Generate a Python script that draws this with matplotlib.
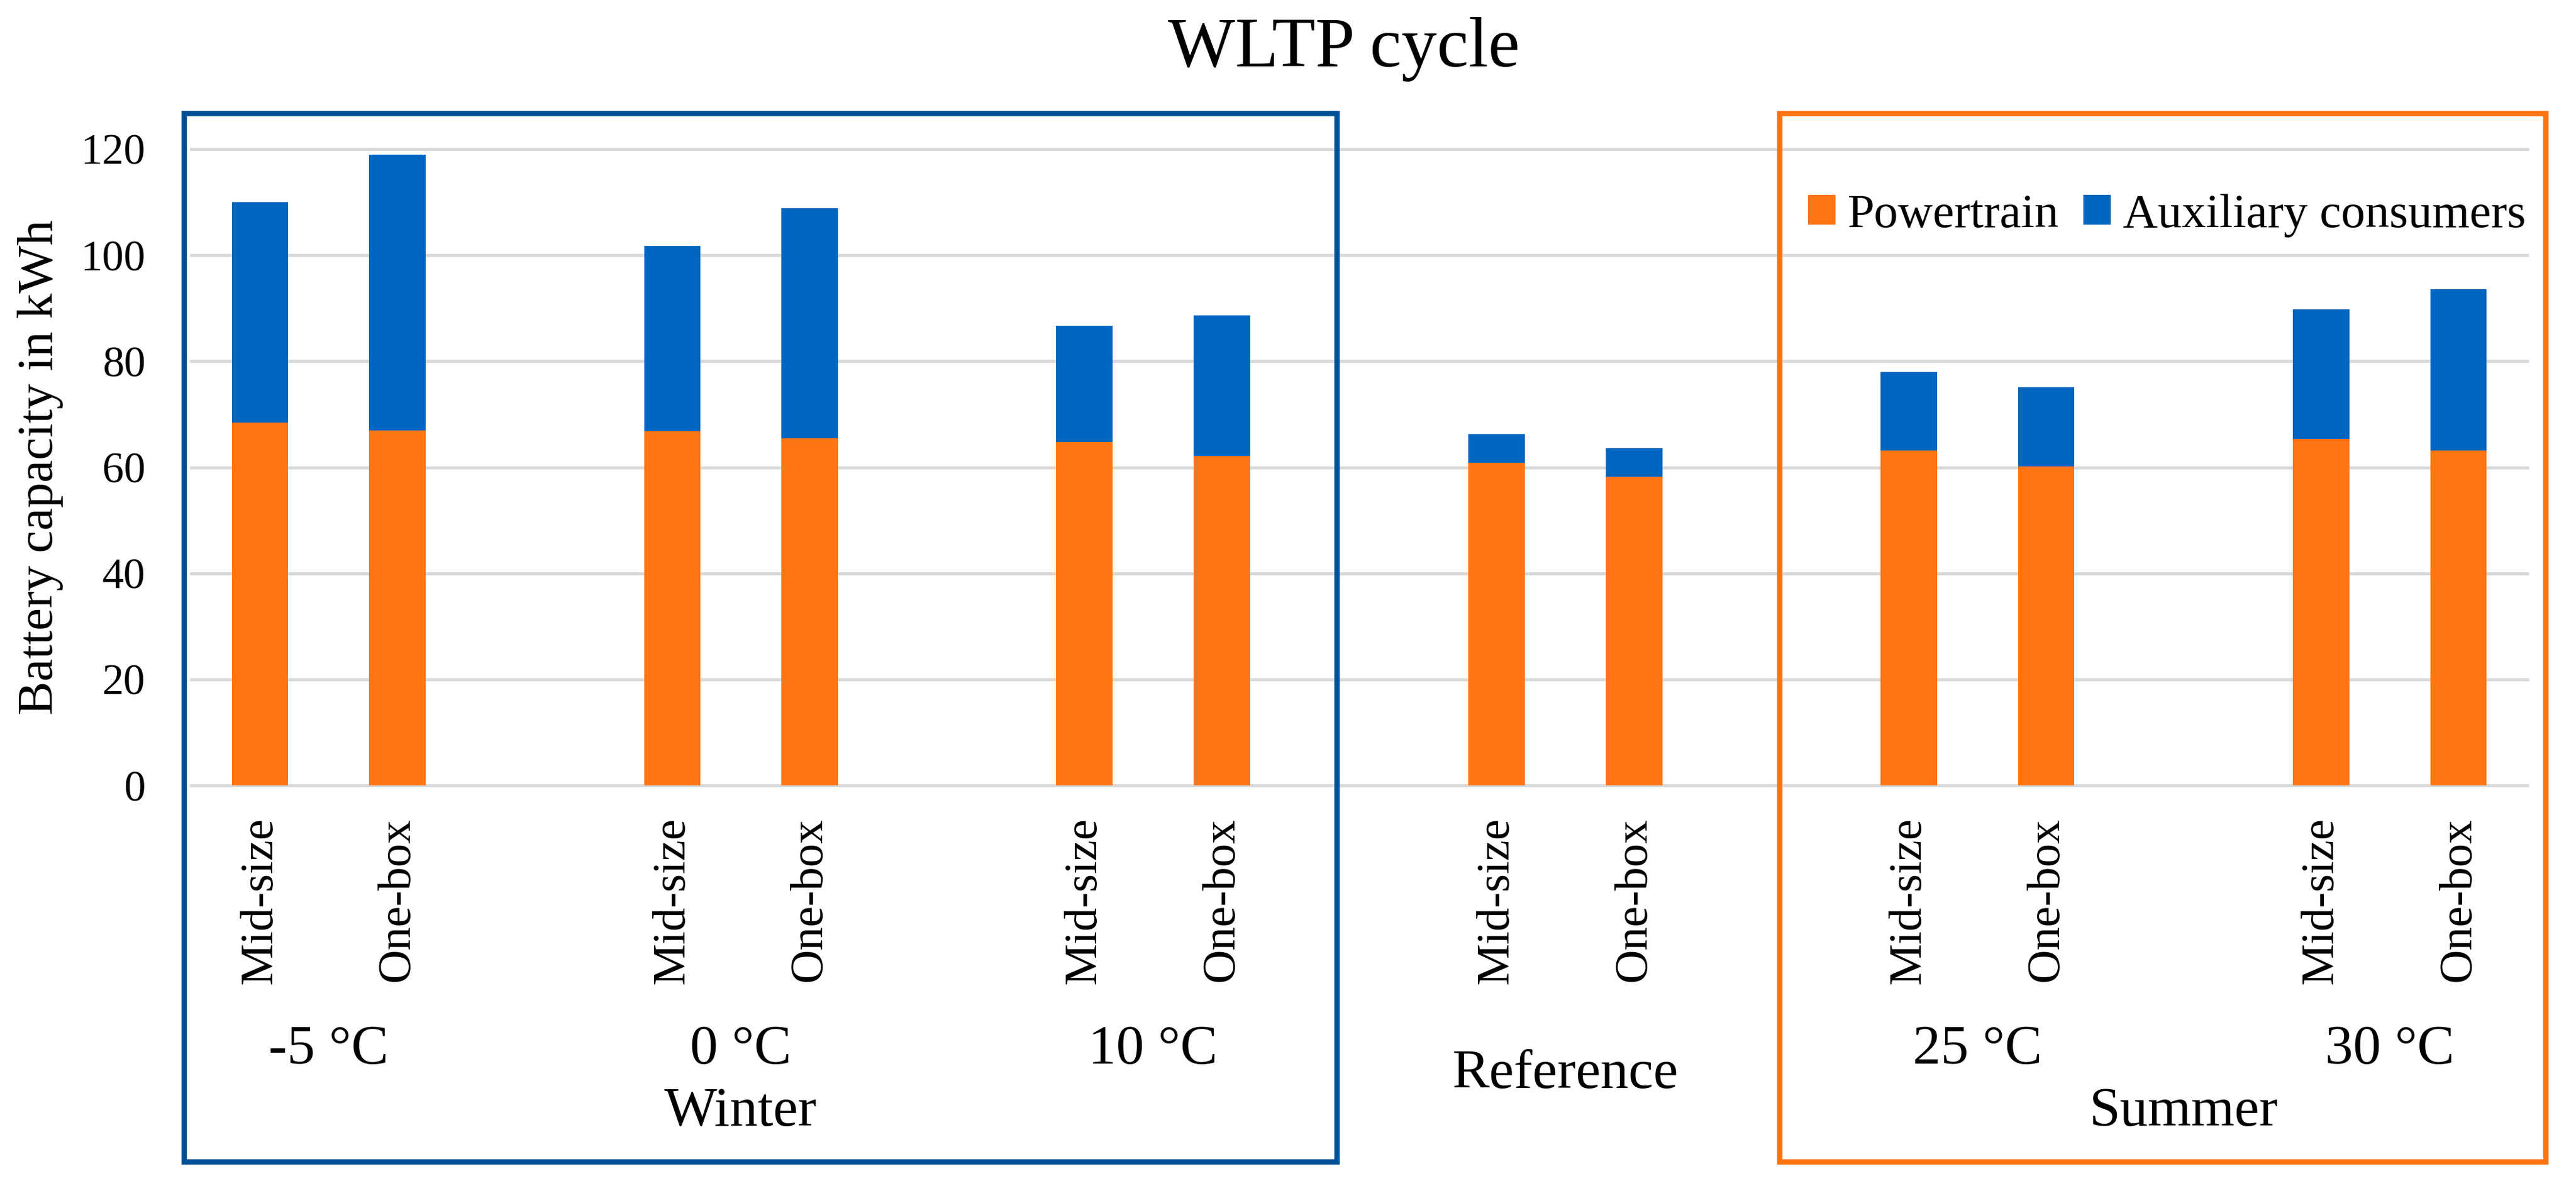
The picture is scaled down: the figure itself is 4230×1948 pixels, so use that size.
import matplotlib.pyplot as plt
from matplotlib.patches import Rectangle
from matplotlib.transforms import blended_transform_factory

# values (kWh)
groups = ['-5 °C', '0 °C', '10 °C', 'Reference', '25 °C', '30 °C']
vehicles = ['Mid-size', 'One-box']
powertrain = [68.4, 67.0, 66.8, 65.5, 64.8, 62.1, 60.9, 58.2, 63.2, 60.2, 65.3, 63.2]
auxiliary = [41.6, 52.0, 34.9, 43.4, 21.9, 26.5, 5.4, 5.4, 14.8, 14.9, 24.5, 30.4]
seasons = ['Winter', 'Summer']
yticks = [0, 20, 40, 60, 80, 100, 120]

orange = '#FF7515'
blue = '#0066C0'

plt.rcParams['font.family'] = ['Liberation Serif', 'DejaVu Serif']

W, H = 4230, 1948
fig = plt.figure(figsize=(W / 300, H / 300), dpi=300)
ax = fig.add_axes([314 / W, 1 - 1290 / H, (4150 - 314) / W, (1290 - 245) / H])

# one empty slot between the groups
pos = []
labels = []
for g in range(len(groups)):
    for s in range(len(vehicles)):
        pos.append(3 * g + s)
        labels.append(vehicles[s])

ax.bar(pos, powertrain, width=0.41, color=orange, label='Powertrain', zorder=3)
ax.bar(pos, auxiliary, width=0.41, bottom=powertrain, color=blue,
       label='Auxiliary consumers', zorder=3)

ax.set_xlim(-0.5, 16.5)
ax.set_ylim(0, 120)
ax.set_yticks(yticks)
ax.set_yticklabels([str(v) for v in yticks], fontsize=17)
ax.set_xticks(pos)
ax.set_xticklabels(labels, rotation=90, fontsize=18.5, va='top')
ax.tick_params(axis='y', length=0, pad=18)
ax.tick_params(axis='x', length=0, pad=12.5)
ax.grid(axis='y', color='#D9D9D9', linewidth=1.2, zorder=0)
ax.set_axisbelow(True)
for sp in ax.spines.values():
    sp.set_visible(False)
for gl in ax.get_ygridlines():
    gl.set_clip_on(False)

# group and season labels under the axis
tr = blended_transform_factory(ax.transData, fig.transFigure)
for g, name in enumerate(groups):
    y = 1 - 1765 / H if name == 'Reference' else 1 - 1725 / H
    ax.text(3 * g + 0.5, y, name, transform=tr, ha='center', va='center',
            fontsize=22)
ax.text(3.5, 1 - 1827 / H, seasons[0], transform=tr, ha='center',
        va='center', fontsize=22)
ax.text(14.0, 1 - 1827 / H, seasons[1], transform=tr, ha='center',
        va='center', fontsize=22)

fig.text(66 / W, 1 - 767 / H, 'Battery capacity in kWh', rotation=90,
         ha='center', va='center', fontsize=20)
fig.text(2207 / W, 1 - 81 / H, 'WLTP cycle', ha='center', va='center',
         fontsize=28)

# season frames
fig.patches.append(Rectangle((302 / W, 1 - 1908 / H), (2195 - 302) / W,
                             (1908 - 186) / H, transform=fig.transFigure,
                             fill=False, edgecolor='#005096', linewidth=2.1))
fig.patches.append(Rectangle((2922 / W, 1 - 1908 / H), (4180 - 2922) / W,
                             (1908 - 186) / H, transform=fig.transFigure,
                             fill=False, edgecolor='#FF7415', linewidth=2.1))

ax.legend(loc='center left', bbox_to_anchor=(2969 / W, 1 - 354 / H),
          bbox_transform=fig.transFigure, ncol=2, frameon=False, fontsize=19,
          handlelength=0.57, handleheight=0.57, handletextpad=0.25,
          columnspacing=0.5, borderpad=0, borderaxespad=0)

fig.savefig('out.png', dpi=300)
